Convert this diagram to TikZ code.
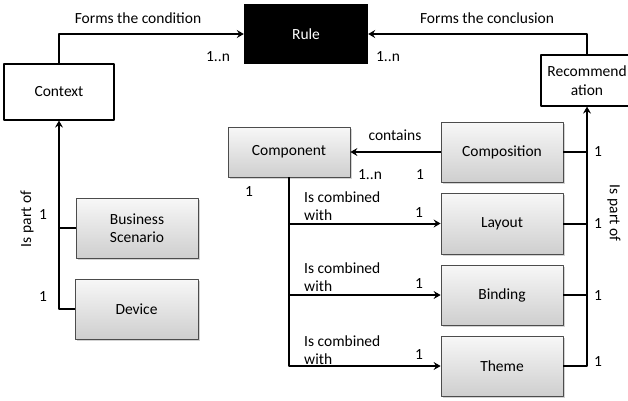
\documentclass[tikz,border=0pt]{standalone}
\usepackage{fontspec}
\setmainfont{Carlito}
\usetikzlibrary{shadows,arrows.meta}
\tikzset{
	graybox/.style={draw=black!70, line width=0.8pt, top color=gray!6, bottom color=gray!38,
		drop shadow={shadow xshift=1.5pt, shadow yshift=-1.5pt, opacity=0.35}, align=center, inner sep=2pt},
	whitebox/.style={draw=black, line width=1.2pt, fill=white, align=center, inner sep=2pt},
	link/.style={line width=2pt},
	lbl/.style={inner sep=0pt}
}
\begin{document}
\begin{tikzpicture}[>={Stealth[length=7pt, width=8pt, inset=2.5pt]}, x=1pt, y=-1pt, line join=round, font=\fontsize{15.5}{18.5}\selectfont]
	\useasboundingbox (0, 0) rectangle (628, 400);
	% top row
	\node[fill=black, text=white, minimum width=124, minimum height=60] (rule) at (306, 34) {Rule};
	\node[whitebox, minimum width=110, minimum height=56] (ctx) at (59, 92) {Context};
	\node[whitebox, minimum width=92, minimum height=51] (rec) at (587, 80.5) {Recommend\\ation};
	% left side
	\node[graybox, minimum width=122, minimum height=60] (bus) at (137, 228) {Business\\Scenario};
	\node[graybox, minimum width=123, minimum height=60] (dev) at (136.5, 309) {Device};
	% right side
	\node[graybox, minimum width=122, minimum height=50] (cmp) at (289, 152) {Component};
	\node[graybox, minimum width=122, minimum height=60] (comps) at (502, 152) {Composition};
	\node[graybox, minimum width=122, minimum height=61] (lay) at (502, 223.5) {Layout};
	\node[graybox, minimum width=122, minimum height=60] (bind) at (502, 295) {Binding};
	\node[graybox, minimum width=122, minimum height=60] (thm) at (502, 366) {Theme};

	% connectors
	\draw[->, link] (ctx.north) |- (rule.west);
	\draw[->, link] (rec.north) |- (rule.east);
	\draw[->, link] (dev.west) -| (ctx.south);
	\draw[link] (bus.west) -- (bus.west -| ctx.south);
	\draw[->, link] (comps.west) -- (cmp.east);
	\draw[->, link] (cmp.south) |- (lay.west);
	\draw[->, link] (cmp.south) |- (bind.west);
	\draw[->, link] (cmp.south) |- (thm.west);
	\draw[->, link] (thm.east) -| (rec.south);
	\draw[link] (comps.east) -- (comps.east -| rec.south);
	\draw[link] (lay.east) -- (lay.east -| rec.south);
	\draw[link] (bind.east) -- (bind.east -| rec.south);

	% labels
	\node[lbl] (t1) at (138, 18) {Forms the condition};
	\node[lbl] (t2) at (487, 18) {Forms the conclusion};
	\node[lbl] (n1) at (218, 57) {1..n};
	\node[lbl] (n2) at (388, 57) {1..n};
	\node[lbl] (t3) at (395, 135) {contains};
	\node[lbl] (n3) at (370, 175) {1..n};
	\node[lbl] (n4) at (420, 175) {1};
	\node[lbl] (n5) at (249, 192) {1};
	\node[lbl, anchor=west, align=left] (c1) at (304, 206) {Is combined\\with};
	\node[lbl, anchor=west, align=left] (c2) at (304, 277) {Is combined\\with};
	\node[lbl, anchor=west, align=left] (c3) at (304, 350) {Is combined\\with};
	\node[lbl] (n6) at (419, 213) {1};
	\node[lbl] (n7) at (419, 284) {1};
	\node[lbl] (n8) at (419, 355) {1};
	\node[lbl] (r1) at (598, 152) {1};
	\node[lbl] (r2) at (598, 224) {1};
	\node[lbl] (r3) at (598, 296) {1};
	\node[lbl] (r4) at (598, 362) {1};
	\node[lbl, rotate=-90] (p1) at (614, 213) {Is part of};
	\node[lbl, rotate=90] (p2) at (27, 219) {Is part of};
	\node[lbl] (l1) at (43, 215) {1};
	\node[lbl] (l2) at (43, 297) {1};
\end{tikzpicture}
\end{document}
